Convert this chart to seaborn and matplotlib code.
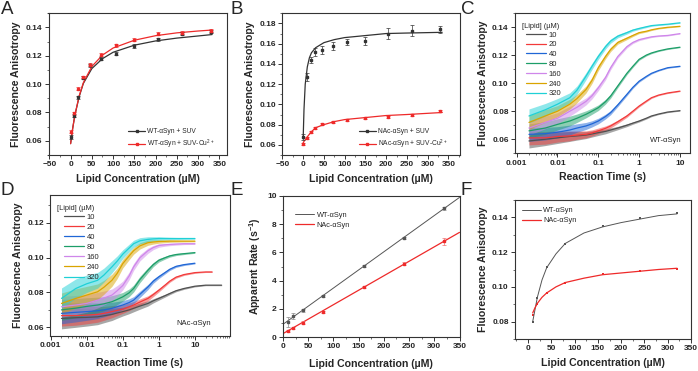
import numpy as np
import pandas as pd
import matplotlib
matplotlib.use("Agg")
import matplotlib.pyplot as plt
import seaborn as sns
from matplotlib.lines import Line2D
from matplotlib.ticker import MultipleLocator, LogLocator, NullFormatter, FuncFormatter

sns.set_theme(style="ticks")
plt.rcParams['font.family'] = ['Liberation Sans', 'DejaVu Sans']
plt.rcParams['mathtext.fontset'] = 'custom'
plt.rcParams['mathtext.rm'] = 'Liberation Sans'
plt.rcParams['mathtext.bf'] = 'Liberation Sans:bold'
plt.rcParams['axes.linewidth'] = 0.8
plt.rcParams['axes.edgecolor'] = '#333333'

BLACK = '#333333'
RED = '#ee2a2a'
TRACE_COLORS = ['#505050', '#f23a3a', '#1f66d6', '#1c9e68', '#cf86ea', '#d9a400', '#1fd0d6']
LIPID_LEVELS = ['10', '20', '40', '80', '160', '240', '320']

# ---- panel A: WT-aSyn equilibrium binding ----
A_LIPID = [0, 9, 18, 28, 46, 72, 106, 150, 205, 262, 330]
A_SUV = [0.0628, 0.0777, 0.0908, 0.1045, 0.1133, 0.118, 0.1215, 0.1267, 0.1317, 0.1357, 0.1369]
A_SUV_ERR = [0.0015, 0.001, 0.001, 0.001, 0.001, 0.0012, 0.0012, 0.0013, 0.001, 0.001, 0.001]
A_CU = [0.0664, 0.0794, 0.0967, 0.105, 0.1137, 0.1208, 0.1275, 0.1315, 0.1357, 0.1364, 0.1376]
A_CU_ERR = [0.001, 0.001, 0.001, 0.001, 0.001, 0.001, 0.001, 0.001, 0.0012, 0.0012, 0.001]
A_FIT_X = [0, 5, 10, 20, 30, 50, 75, 100, 150, 200, 250, 300, 333]
A_FIT_SUV = [0.058, 0.069, 0.078, 0.091, 0.1005, 0.111, 0.118, 0.1225, 0.1275, 0.1305, 0.1325, 0.134, 0.135]
A_FIT_CU = [0.058, 0.069, 0.078, 0.0915, 0.101, 0.1125, 0.1205, 0.1255, 0.131, 0.1342, 0.1362, 0.1375, 0.1382]

# ---- panel B: NAc-aSyn equilibrium binding ----
B_LIPID = [0, 9, 18, 28, 46, 72, 106, 150, 205, 262, 330]
B_SUV = [0.068, 0.127, 0.144, 0.152, 0.154, 0.158, 0.162, 0.163, 0.170, 0.173, 0.174]
B_SUV_ERR = [0.003, 0.004, 0.003, 0.004, 0.004, 0.004, 0.003, 0.004, 0.005, 0.005, 0.003]
B_CU = [0.061, 0.067, 0.073, 0.077, 0.0806, 0.083, 0.085, 0.0865, 0.088, 0.090, 0.093]
B_CU_ERR = [0.001, 0.001, 0.001, 0.001, 0.001, 0.001, 0.001, 0.001, 0.001, 0.001, 0.001]
B_FIT_X = [0, 2, 5, 10, 15, 20, 30, 50, 75, 100, 150, 200, 250, 335]
B_FIT_SUV = [0.066, 0.095, 0.120, 0.137, 0.146, 0.151, 0.156, 0.161, 0.164, 0.166, 0.168, 0.170, 0.1705, 0.1712]
B_FIT_CU = [0.062, 0.0635, 0.065, 0.068, 0.0705, 0.073, 0.077, 0.080, 0.083, 0.085, 0.087, 0.089, 0.090, 0.092]

# ---- panel C: WT-aSyn stopped-flow traces ----
C_TIME = [0.002, 0.005, 0.01, 0.02, 0.03, 0.05, 0.07, 0.1, 0.15, 0.2, 0.3, 0.5, 0.7, 1, 1.5, 2, 3, 5, 10]
C_NOISE = [0.005, 0.0045, 0.004, 0.0035, 0.003, 0.0025, 0.0022, 0.002, 0.0017, 0.0015, 0.0012,
           0.001, 0.0008, 0.0007, 0.0006, 0.0005, 0.0004, 0.0004, 0.0003]
C_10 = [0.0588, 0.060, 0.061, 0.062, 0.0624, 0.063, 0.0638, 0.0647, 0.0656, 0.0666, 0.068,
        0.070, 0.0715, 0.073, 0.075, 0.0766, 0.078, 0.0794, 0.0804]
C_20 = [0.061, 0.061, 0.062, 0.0624, 0.063, 0.0635, 0.0645, 0.066, 0.0678, 0.0695, 0.0725,
        0.0766, 0.080, 0.0837, 0.0872, 0.0896, 0.0915, 0.093, 0.0943]
C_40 = [0.0635, 0.064, 0.065, 0.0666, 0.068, 0.0695, 0.071, 0.073, 0.0762, 0.079, 0.0845,
        0.092, 0.097, 0.1014, 0.1048, 0.107, 0.109, 0.111, 0.112]
C_80 = [0.066, 0.068, 0.0706, 0.073, 0.075, 0.0778, 0.080, 0.0825, 0.0868, 0.0908, 0.098,
        0.107, 0.112, 0.117, 0.120, 0.1215, 0.123, 0.1244, 0.1256]
C_160 = [0.068, 0.072, 0.075, 0.080, 0.0828, 0.087, 0.091, 0.0967, 0.104, 0.111, 0.119,
         0.126, 0.129, 0.131, 0.1322, 0.133, 0.1336, 0.134, 0.1353]
C_240 = [0.072, 0.0766, 0.080, 0.085, 0.089, 0.0955, 0.102, 0.111, 0.119, 0.124, 0.129,
         0.132, 0.134, 0.136, 0.137, 0.138, 0.139, 0.1398, 0.1405]
C_320 = [0.0766, 0.081, 0.085, 0.0896, 0.095, 0.105, 0.112, 0.119, 0.126, 0.130, 0.1335,
         0.136, 0.1378, 0.139, 0.1402, 0.141, 0.1415, 0.142, 0.143]

# ---- panel D: NAc-aSyn stopped-flow traces ----
D_TIME = [0.002, 0.005, 0.01, 0.02, 0.03, 0.05, 0.07, 0.1, 0.15, 0.2, 0.3, 0.5, 0.7, 1, 1.5, 2, 3, 5,
          10, 20, 30, 55]
D_NOISE = [0.006, 0.0055, 0.005, 0.0045, 0.004, 0.0035, 0.003, 0.0025, 0.0022, 0.002, 0.0018,
           0.0015, 0.0012, 0.001, 0.0008, 0.0007, 0.0006, 0.0005, 0.0004, 0.0003, 0.0003, 0.0003]
D_10 = [0.0651, 0.0655, 0.0657, 0.066, 0.0666, 0.0674, 0.0682, 0.069, 0.070, 0.0709, 0.0722,
        0.0737, 0.0752, 0.0766, 0.0782, 0.0794, 0.081, 0.0823, 0.0836, 0.0842, 0.0842, 0.0842]
D_20 = [0.0667, 0.0667, 0.067, 0.0674, 0.068, 0.069, 0.0697, 0.0705, 0.0718, 0.0728, 0.0745,
        0.0766, 0.0788, 0.0813, 0.0843, 0.0865, 0.0888, 0.0903, 0.0914, 0.0918, 0.0918, None]
D_40 = [0.068, 0.0686, 0.069, 0.0695, 0.070, 0.0709, 0.0718, 0.0728, 0.0742, 0.0756, 0.079,
        0.0832, 0.0865, 0.089, 0.0915, 0.0933, 0.095, 0.096, 0.0968, None, None, None]
D_80 = [0.070, 0.071, 0.072, 0.0728, 0.0735, 0.0747, 0.076, 0.0775, 0.0798, 0.0823, 0.0875,
        0.0928, 0.096, 0.0985, 0.100, 0.101, 0.1018, 0.1023, 0.1029, None, None, None]
D_160 = [0.0718, 0.0728, 0.0737, 0.0756, 0.0768, 0.0785, 0.081, 0.084, 0.0895, 0.0947, 0.100,
         0.104, 0.1058, 0.107, 0.1074, 0.1076, 0.1078, 0.108, 0.108, None, None, None]
D_240 = [0.0737, 0.0766, 0.0785, 0.0804, 0.083, 0.087, 0.091, 0.0966, 0.101, 0.104, 0.1068,
         0.1086, 0.109, 0.1093, 0.1094, 0.1095, 0.1095, 0.1095, 0.1095, None, None, None]
D_320 = [0.0766, 0.0823, 0.085, 0.087, 0.090, 0.0947, 0.098, 0.102, 0.1055, 0.108, 0.1097,
         0.1105, 0.1108, 0.111, 0.111, 0.111, 0.111, 0.111, 0.111, None, None, None]

# ---- panel E: apparent rates ----
E_LIPID = [10, 20, 40, 80, 160, 240, 320]
E_WT = [1.07, 1.47, 1.9, 2.89, 5.02, 7.0, 9.12]
E_WT_ERR = [0.35, 0.2, 0.12, 0.08, 0.08, 0.08, 0.12]
E_NAC = [0.43, 0.64, 1.0, 1.78, 3.55, 5.21, 6.8]
E_NAC_ERR = [0.05, 0.05, 0.1, 0.08, 0.1, 0.1, 0.25]
E_FIT_X = [0, 350]
E_FIT_WT = [0.9, 9.9]
E_FIT_NAC = [0.24, 7.42]

# ---- panel F: end-point anisotropy ----
F_LIPID = [10, 20, 40, 80, 160, 240, 320]
F_WT = [0.080, 0.0938, 0.1116, 0.1249, 0.1349, 0.1396, 0.1423]
F_NAC = [0.0838, 0.090, 0.0965, 0.102, 0.1073, 0.1091, 0.1105]
F_FIT_X = [10, 15, 20, 30, 40, 60, 80, 120, 160, 200, 240, 280, 320]
F_FIT_WT = [0.080, 0.087, 0.094, 0.104, 0.111, 0.119, 0.125, 0.131, 0.1345, 0.137, 0.139, 0.141, 0.142]
F_FIT_NAC = [0.085, 0.088, 0.0905, 0.094, 0.0965, 0.100, 0.1025, 0.105, 0.107, 0.108, 0.109, 0.110, 0.1107]

W, H = 698, 371
fig = plt.figure(figsize=(W / 100, H / 100), dpi=100)


def add_ax(l, t, r, b):
    return fig.add_axes([l / W, 1 - b / H, (r - l) / W, (b - t) / H])


def style(ax, xlabel, ylabel, xpad=4):
    ax.set_xlabel(xlabel, fontsize=7.6, fontweight='bold', labelpad=xpad)
    ax.set_ylabel(ylabel, fontsize=7.6, fontweight='bold', labelpad=3)
    ax.tick_params(which='major', direction='out', length=3, width=0.7, labelsize=6, pad=1.5, color=BLACK)
    ax.tick_params(which='minor', direction='out', length=1.6, width=0.5, color=BLACK)
    for lab in ax.get_xticklabels() + ax.get_yticklabels():
        lab.set_fontweight('bold')
    for s in ax.spines.values():
        s.set_visible(True)
        s.set_color(BLACK)


def small_legend(ax, handles, labels, x, y, fs=4.8, spacing=0.35):
    leg = ax.legend(handles, labels, loc='upper left', bbox_to_anchor=(x, y), frameon=False,
                    fontsize=fs, borderpad=0, borderaxespad=0, handlelength=2.6,
                    handletextpad=0.3, labelspacing=spacing)
    return leg


def binding_panel(ax, x, y1, e1, y2, e2, fx, f1, f2):
    df = pd.DataFrame({'x': fx, 'y1': f1, 'y2': f2})
    sns.lineplot(data=df, x='x', y='y1', color=BLACK, lw=0.9, ax=ax, legend=False)
    sns.lineplot(data=df, x='x', y='y2', color=RED, lw=0.9, ax=ax, legend=False)
    ax.errorbar(x, y1, yerr=e1, fmt='s', ms=1.8, color=BLACK, elinewidth=0.5, capsize=1.2, capthick=0.5)
    ax.errorbar(x, y2, yerr=e2, fmt='s', ms=1.8, color=RED, elinewidth=0.5, capsize=1.2, capthick=0.5)


# A
axA = add_ax(48.5, 13.3, 227, 155)
binding_panel(axA, A_LIPID, A_SUV, A_SUV_ERR, A_CU, A_CU_ERR, A_FIT_X, A_FIT_SUV, A_FIT_CU)
axA.set_xlim(-52, 368)
axA.set_ylim(0.05, 0.15)
axA.xaxis.set_major_locator(MultipleLocator(50))
axA.xaxis.set_minor_locator(MultipleLocator(25))
axA.yaxis.set_major_locator(MultipleLocator(0.02))
axA.yaxis.set_minor_locator(MultipleLocator(0.01))
axA.yaxis.set_major_formatter(FuncFormatter(lambda v, p: f'{v:.2f}'))
style(axA, 'Lipid Concentration (µM)', 'Fluorescence Anisotropy')
small_legend(axA, [Line2D([], [], color=BLACK, lw=0.9, marker='s', ms=1.8),
                   Line2D([], [], color=RED, lw=0.9, marker='s', ms=1.8)],
             ['WT-αSyn + SUV', 'WT-αSyn + SUV-Cu$^{2+}$'], 0.445, 0.19)

# B
axB = add_ax(282, 13.3, 460, 155)
binding_panel(axB, B_LIPID, B_SUV, B_SUV_ERR, B_CU, B_CU_ERR, B_FIT_X, B_FIT_SUV, B_FIT_CU)
axB.set_xlim(-51, 378)
axB.set_ylim(0.05, 0.19)
axB.xaxis.set_major_locator(MultipleLocator(50))
axB.xaxis.set_minor_locator(MultipleLocator(25))
axB.yaxis.set_major_locator(MultipleLocator(0.02))
axB.yaxis.set_minor_locator(MultipleLocator(0.01))
axB.yaxis.set_major_formatter(FuncFormatter(lambda v, p: f'{v:.2f}'))
style(axB, 'Lipid Concentration (µM)', 'Fluorescence Anisotropy')
small_legend(axB, [Line2D([], [], color=BLACK, lw=0.9, marker='s', ms=1.8),
                   Line2D([], [], color=RED, lw=0.9, marker='s', ms=1.8)],
             ['NAc-αSyn + SUV', 'NAc-αSyn + SUV-Cu$^{2+}$'], 0.43, 0.19)


def trace_panel(ax, t, noise, traces):
    handles = []
    for vals, col in zip(traces, TRACE_COLORS):
        df = pd.DataFrame({'t': t, 'y': vals, 'n': noise}).dropna()
        ax.fill_between(df['t'], df['y'] - df['n'], df['y'] + df['n'], color=col, alpha=0.5, lw=0)
        sns.lineplot(data=df, x='t', y='y', color=col, lw=0.9, ax=ax, legend=False)
        handles.append(Line2D([], [], color=col, lw=0.9))
    ax.set_xscale('log')
    ax.xaxis.set_major_locator(LogLocator(base=10))
    ax.xaxis.set_minor_locator(LogLocator(base=10, subs=np.arange(2, 10)))
    ax.xaxis.set_minor_formatter(NullFormatter())
    ax.xaxis.set_major_formatter(FuncFormatter(lambda v, p: f'{v:g}'))
    ax.yaxis.set_major_locator(MultipleLocator(0.02))
    ax.yaxis.set_minor_locator(MultipleLocator(0.01))
    ax.yaxis.set_major_formatter(FuncFormatter(lambda v, p: f'{v:.2f}'))
    return handles


# C
axC = add_ax(515, 13, 690, 153.3)
hC = trace_panel(axC, C_TIME, C_NOISE, [C_10, C_20, C_40, C_80, C_160, C_240, C_320])
axC.set_xlim(0.00091, 17.6)
axC.set_ylim(0.05, 0.15)
style(axC, 'Reaction Time (s)', 'Fluorescence Anisotropy')
axC.text(0.04, 0.93, '[Lipid] (µM)', transform=axC.transAxes, fontsize=5.3, va='top', ha='left')
small_legend(axC, hC, LIPID_LEVELS, 0.065, 0.87, fs=5.5, spacing=0.32)
axC.text(0.77, 0.09, 'WT-αSyn', transform=axC.transAxes, fontsize=5.5, va='center', ha='left')

# D
axD = add_ax(50, 195, 230, 336)
hD = trace_panel(axD, D_TIME, D_NOISE, [D_10, D_20, D_40, D_80, D_160, D_240, D_320])
axD.set_xlim(0.00096, 94)
axD.set_ylim(0.055, 0.136)
style(axD, 'Reaction Time (s)', 'Fluorescence Anisotropy', xpad=6)
axD.text(0.04, 0.93, '[Lipid] (µM)', transform=axD.transAxes, fontsize=5.3, va='top', ha='left')
small_legend(axD, hD, LIPID_LEVELS, 0.08, 0.87, fs=5.5, spacing=0.36)
axD.text(0.70, 0.09, 'NAc-αSyn', transform=axD.transAxes, fontsize=5.5, va='center', ha='left')

# E
axE = add_ax(283, 196, 459.5, 337)
dfE = pd.DataFrame({'x': E_FIT_X, 'wt': E_FIT_WT, 'nac': E_FIT_NAC})
sns.lineplot(data=dfE, x='x', y='wt', color='#555555', lw=0.7, ax=axE, legend=False)
sns.lineplot(data=dfE, x='x', y='nac', color=RED, lw=0.9, ax=axE, legend=False)
axE.errorbar(E_LIPID, E_WT, yerr=E_WT_ERR, fmt='s', ms=1.5, color='#555555', ecolor='#888888',
             elinewidth=0.5, capsize=1.2, capthick=0.5)
axE.errorbar(E_LIPID, E_NAC, yerr=E_NAC_ERR, fmt='s', ms=1.5, color=RED, ecolor='#f07070',
             elinewidth=0.5, capsize=1.2, capthick=0.5)
axE.set_xlim(0, 350)
axE.set_ylim(0, 10)
axE.xaxis.set_major_locator(MultipleLocator(50))
axE.xaxis.set_minor_locator(MultipleLocator(25))
axE.yaxis.set_major_locator(MultipleLocator(2))
axE.yaxis.set_minor_locator(MultipleLocator(1))
style(axE, 'Lipid Concentration (µM)', 'Apparent Rate (s$\\mathbf{^{-1}}$)', xpad=6)
small_legend(axE, [Line2D([], [], color='#555555', lw=0.7), Line2D([], [], color=RED, lw=0.9)],
             ['WT-αSyn', 'NAc-αSyn'], 0.07, 0.89, fs=5.3, spacing=0.4)

# F
axF = add_ax(515, 200, 691, 339)
dfF = pd.DataFrame({'x': F_FIT_X, 'wt': F_FIT_WT, 'nac': F_FIT_NAC})
sns.lineplot(data=dfF, x='x', y='wt', color='#555555', lw=0.7, ax=axF, legend=False)
sns.lineplot(data=dfF, x='x', y='nac', color=RED, lw=0.9, ax=axF, legend=False)
sns.scatterplot(x=F_LIPID, y=F_WT, color='#555555', marker='s', s=4, linewidth=0, ax=axF)
sns.scatterplot(x=F_LIPID, y=F_NAC, color=RED, marker='s', s=4, linewidth=0, ax=axF)
axF.set_xlim(-28, 350)
axF.set_ylim(0.07, 0.15)
axF.xaxis.set_major_locator(MultipleLocator(50))
axF.xaxis.set_minor_locator(MultipleLocator(25))
axF.yaxis.set_major_locator(MultipleLocator(0.02))
axF.yaxis.set_minor_locator(MultipleLocator(0.01))
axF.yaxis.set_major_formatter(FuncFormatter(lambda v, p: f'{v:.2f}'))
style(axF, 'Lipid Concentration (µM)', 'Fluorescence Anisotropy', xpad=4.5)
small_legend(axF, [Line2D([], [], color='#555555', lw=0.7), Line2D([], [], color=RED, lw=0.9)],
             ['WT-αSyn', 'NAc-αSyn'], 0.04, 0.95, fs=5.3, spacing=0.4)

for lbl, (x, y) in zip('ABCDEF', [(1, 1), (231, 1), (461, 1), (1, 182), (231, 182), (461, 182)]):
    fig.text(x / W, 1 - y / H, lbl, fontsize=13.5, va='top', ha='left')

fig.savefig('out.png', dpi=100)
